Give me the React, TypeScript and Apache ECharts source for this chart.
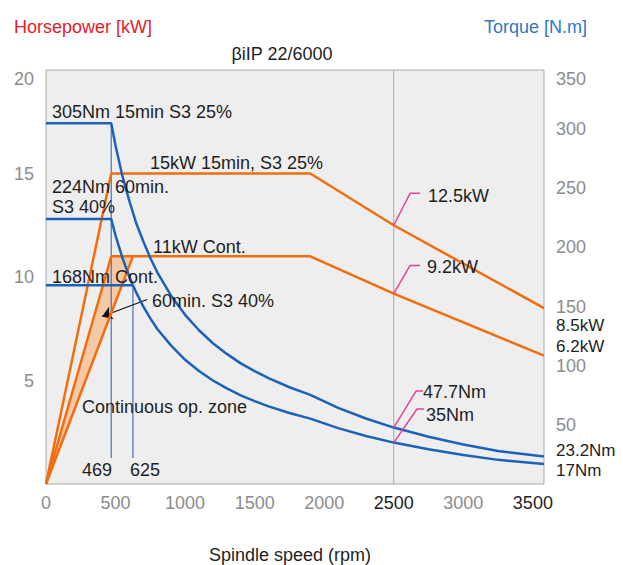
import React, { useEffect, useRef } from "react";
import * as echarts from "echarts";

// ---- data (rpm, value) ----
const powerS3: number[][] = [[0, 0], [469, 15], [1900, 15], [2500, 12.5], [3580, 8.5]];
const powerCont: number[][] = [[0, 0], [625, 11], [1900, 11], [2500, 9.2], [3580, 6.2]];
const power60: number[][] = [[0, 0], [469, 11], [625, 11]];
const fillPoly: number[][] = [[0, 0], [469, 11], [625, 11]];

const torqueS3: number[][] = [
  [0, 305], [469, 305], [500, 286], [550, 260], [600, 239], [650, 220], [700, 205], [750, 191],
  [800, 179], [900, 159], [1000, 143], [1100, 130], [1200, 119], [1300, 110], [1400, 102],
  [1500, 95.5], [1600, 89.5], [1750, 81.8], [1900, 75.4], [2100, 64.4], [2300, 55.4],
  [2500, 47.7], [2750, 39.9], [3000, 33.4], [3250, 27.9], [3580, 23.2],
];
const torque60: number[][] = [
  [0, 224], [469, 224], [500, 210], [550, 191], [600, 175], [625, 168], [650, 161.6], [700, 150],
  [750, 140], [800, 131], [900, 117], [1000, 105], [1100, 95.5], [1200, 87.5], [1300, 80.8],
  [1400, 75], [1500, 70], [1600, 65.6], [1750, 60], [1900, 55.3], [2100, 47.2], [2300, 40.6],
  [2500, 35], [2750, 29.3], [3000, 24.5], [3250, 20.4], [3580, 17],
];
const torqueCont: number[][] = [[0, 168], [625, 168]];
const marker469: number[][] = [[469, 22], [469, 305]];
const marker625: number[][] = [[625, 22], [625, 168]];
const refLine2500: number[][] = [[2500, 0], [2500, 20]];

const leader125: number[][] = [[2500, 12.5], [2617, 14.04], [2689, 14.04]];
const leader92: number[][] = [[2500, 9.2], [2617, 10.56], [2689, 10.56]];
const leader477: number[][] = [[2500, 47.7], [2660, 78.6], [2710, 78.6]];
const leader35: number[][] = [[2500, 35], [2667, 63.4], [2717, 63.4]];
const arrow60: number[][] = [[727, 8.91], [403, 8.09]];

const xTicks = [0, 500, 1000, 1500, 2000, 2500, 3000, 3500];
const darkXTicks = [2500, 3500];

const BLUE = "#1c62b8";
const ORANGE = "#f36d0f";
const PINK = "#e8409a";
const FONT = "Liberation Sans, Arial, sans-serif";

function txt(text: string, x: number, y: number, opts: any = {}) {
  return {
    type: "text",
    x,
    y,
    z: 100,
    style: {
      text,
      fontSize: opts.size || 18,
      fontFamily: FONT,
      fill: opts.fill || "#1e1e1e",
      align: opts.align || "left",
      verticalAlign: "middle",
    },
  };
}

export default function App() {
  const ref = useRef<HTMLDivElement>(null);
  useEffect(() => {
    const chart = echarts.init(ref.current!, undefined, { renderer: "svg" });
    const line = (data: number[][], color: string, width: number, yIdx: number, z = 5) => ({
      type: "line",
      data,
      yAxisIndex: yIdx,
      showSymbol: false,
      symbol: "none",
      silent: true,
      z,
      lineStyle: { color, width },
    });
    chart.setOption({
      animation: false,
      textStyle: { fontFamily: FONT },
      grid: {
        left: 46,
        right: 79,
        top: 70,
        bottom: 81,
        show: true,
        backgroundColor: "#eeeeee",
        borderColor: "#ababab",
        borderWidth: 1,
      },
      xAxis: {
        type: "value",
        min: 0,
        max: 3580,
        interval: 500,
        splitLine: { show: false },
        axisLine: { show: false },
        axisTick: { show: false },
        axisLabel: {
          margin: 10,
          fontSize: 18,
          fontFamily: FONT,
          formatter: (v: number) => (xTicks.includes(Number(v)) ? String(v) : ""),
          color: (v: any) => (darkXTicks.includes(Number(v)) ? "#1e1e1e" : "#8c8c8c"),
        },
      },
      yAxis: [
        {
          type: "value",
          min: 0,
          max: 20,
          interval: 5,
          splitLine: { show: false },
          axisLine: { show: false },
          axisTick: { show: false },
          axisLabel: {
            showMinLabel: false,
            verticalAlignMaxLabel: "top",
            margin: 12,
            fontSize: 18,
            color: "#8c8c8c",
            fontFamily: FONT,
          },
        },
        {
          type: "value",
          min: 0,
          max: 350,
          interval: 50,
          position: "right",
          splitLine: { show: false },
          axisLine: { show: false },
          axisTick: { show: false },
          axisLabel: {
            showMinLabel: false,
            verticalAlignMaxLabel: "top",
            margin: 12,
            fontSize: 18,
            color: "#8c8c8c",
            fontFamily: FONT,
          },
        },
      ],
      series: [
        {
          type: "custom",
          yAxisIndex: 0,
          silent: true,
          z: 1,
          data: [[0, 0]],
          renderItem: (_p: any, api: any) => ({
            type: "polygon",
            shape: { points: fillPoly.map((p) => api.coord(p)) },
            style: { fill: "#f6c9a6" },
          }),
        },
        line(refLine2500, "#a8a8a8", 1, 0, 2),
        line(marker469, "#4a6cc4", 1.2, 1, 3),
        line(marker625, "#4a6cc4", 1.2, 1, 3),
        line(powerS3, ORANGE, 2.5, 0),
        line(powerCont, ORANGE, 2.5, 0),
        line(power60, ORANGE, 2.5, 0),
        line(torqueS3, BLUE, 2.5, 1),
        line(torque60, BLUE, 2.5, 1),
        line(torqueCont, BLUE, 2.5, 1),
        line(leader125, PINK, 1.5, 0),
        line(leader92, PINK, 1.5, 0),
        line(leader477, PINK, 1.5, 1),
        line(leader35, PINK, 1.5, 1),
        {
          type: "line",
          data: [],
          yAxisIndex: 0,
          silent: true,
          markLine: {
            silent: true,
            animation: false,
            symbol: ["none", "arrow"],
            symbolSize: 10,
            label: { show: false },
            lineStyle: { color: "#111", width: 1.2, type: "solid" },
            data: [[{ coord: arrow60[0] }, { coord: arrow60[1] }]],
          },
        },
      ],
      graphic: [
        txt("Horsepower [kW]", 14, 27, { fill: "#e2202b" }),
        txt("Torque [N.m]", 587, 27, { fill: "#2f78c4", align: "right" }),
        txt("βiIP 22/6000", 282, 54, { align: "center" }),
        txt("Spindle speed (rpm)", 290, 555, { align: "center" }),
        txt("305Nm 15min S3 25%", 52, 112),
        txt("15kW 15min, S3 25%", 150, 163),
        txt("224Nm 60min.", 52, 187),
        txt("S3 40%", 52, 207),
        txt("11kW Cont.", 153, 247),
        txt("168Nm Cont.", 52, 277),
        txt("60min. S3 40%", 152, 301),
        txt("Continuous op. zone", 82, 407),
        txt("469", 82, 470),
        txt("625", 130, 470),
        txt("12.5kW", 428, 196),
        txt("9.2kW", 427, 267),
        txt("8.5kW", 556, 325, { size: 17 }),
        txt("6.2kW", 556, 346, { size: 17 }),
        txt("47.7Nm", 423, 392),
        txt("35Nm", 426, 415),
        txt("23.2Nm", 556, 450, { size: 17 }),
        txt("17Nm", 556, 470, { size: 17 }),
      ],
    });
    return () => chart.dispose();
  }, []);
  return <div ref={ref} style={{ width: 623, height: 565, position: "absolute", left: 0, top: 0 }} />;
}
